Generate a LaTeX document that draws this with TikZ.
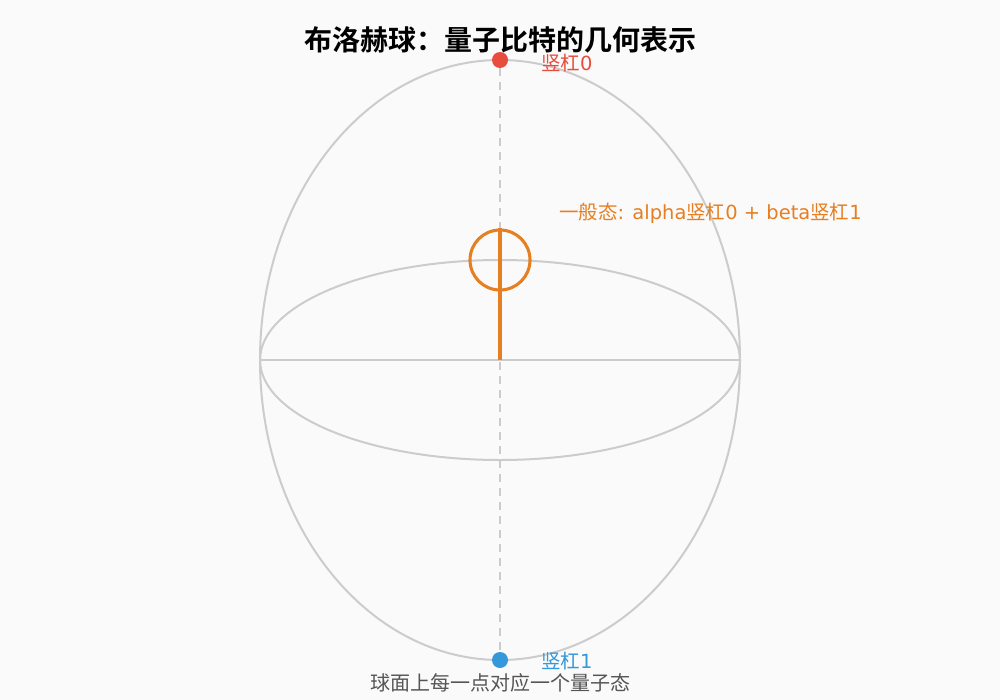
\documentclass[tikz,border=0pt]{standalone}
\usepackage{fontspec}
\setmainfont{DejaVu Sans}
\newfontfamily\cjk{Noto Sans CJK SC}[BoldFont={Noto Sans CJK SC Bold}]
\definecolor{bg}{HTML}{FAFAFA}
\definecolor{gridc}{HTML}{CCCCCC}
\definecolor{redc}{HTML}{E74C3C}
\definecolor{bluec}{HTML}{3498DB}
\definecolor{orangec}{HTML}{E67E22}
\definecolor{textgray}{HTML}{555555}
\tikzset{
  sphereline/.style={draw=gridc, line width=1.5pt},
  axisline/.style={draw=gridc, line width=1.2pt, dash pattern=on 6pt off 4.5pt},
  pole/.style={circle, inner sep=0pt, minimum size=12pt},
  lbl/.style={inner sep=0pt, font=\fontsize{14.6pt}{17pt}\selectfont},
}
\begin{document}
\begin{tikzpicture}[x=0.75pt,y=-0.75pt]
\fill[bg] (0,0) rectangle (1000,700);
\useasboundingbox (0,0) rectangle (1000,700);
% sphere
\draw[sphereline] (500,360) ellipse [x radius=240, y radius=300];
\draw[sphereline] (500,360) ellipse [x radius=240, y radius=100];
\coordinate (eqL) at (260,360);
\coordinate (eqR) at (740,360);
\coordinate (center) at (500,360);
\draw[sphereline] (eqL) -- (eqR);
% poles
\node[pole, fill=redc] (north) at (500,60) {};
\node[pole, fill=bluec] (south) at (500,660) {};
\draw[axisline] (north) -- (south);
% state vector
\node[circle, draw=orangec, line width=2.3pt, minimum size=45pt, inner sep=0pt] (state) at (500,260) {};
\draw[draw=orangec, line width=2.3pt] (center) -- (state.north);
% labels
\node[lbl, text=redc, anchor=west] (l0) at (541,63) {{\cjk 竖杠}0};
\node[lbl, text=bluec, anchor=west] (l1) at (541,661) {{\cjk 竖杠}1};
\node[lbl, text=orangec, anchor=west] (lg) at (559,213) {{\cjk 一般态}: alpha{\cjk 竖杠}0 + beta{\cjk 竖杠}1};
\node[inner sep=0pt, font=\fontsize{21pt}{24pt}\selectfont\cjk\bfseries] (title) at (500,40) {布洛赫球：量子比特的几何表示};
\node[inner sep=0pt, text=textgray, font=\fontsize{15pt}{18pt}\selectfont\cjk] (foot) at (500,683) {球面上每一点对应一个量子态};
\end{tikzpicture}
\end{document}
